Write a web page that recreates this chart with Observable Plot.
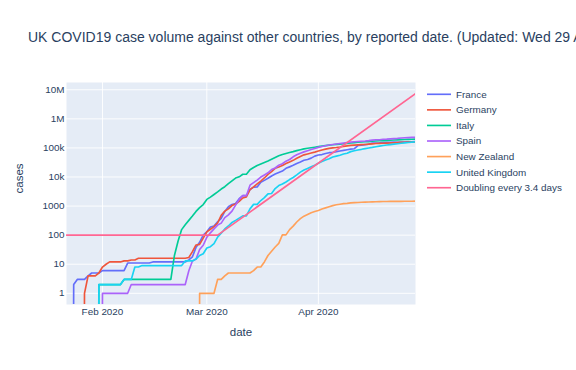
<!DOCTYPE html>
<html><head><meta charset="utf-8">
<script src="https://cdn.jsdelivr.net/npm/d3@7"></script>
<script src="https://cdn.jsdelivr.net/npm/@observablehq/plot@0.6"></script>
<style>
body{margin:0;background:#fff;}
#wrap{position:relative;width:576px;height:370px;overflow:hidden;font-family:"Liberation Sans",Arial,sans-serif;}
#wrap svg.overlay{position:absolute;left:0;top:0;pointer-events:none;}
</style></head><body><div id="wrap"></div>
<script>
// ---- data (daily cumulative cases, 22 Jan 2020 .. 28 Apr 2020) ----
const titleText = "UK COVID19 case volume against other countries, by reported date. (Updated: Wed 29 April 2020)";
const firstDay = "2020-01-22";
const lastDay = "2020-04-28";
const seriesNames = ["France","Germany","Italy","Spain","New Zealand","United Kingdom","Doubling every 3.4 days"];
const seriesColors = ["#636EFA","#EF553B","#00CC96","#AB63FA","#FFA15A","#19D3F3","#FF6692"];

const france = [0,0,2,3,3,3,4,5,5,5,
 6,6,6,6,6,6,6,11,11,11,11,11,11,11,12,12,12,12,12,12,12,12,12,12,14,18,38,57,100,
 130,191,204,288,380,656,957,1134,1217,1792,2289,2289,3672,4480,4513,6650,7652,9043,10871,12612,14282,16018,19856,22304,25233,29155,32964,37575,40174,44550,52128,
 56989,59105,64338,68605,70478,74390,78167,82048,86334,90676,93790,120633,124298,130253,133470,145960,147969,149149,154097,156480,155393,158168,155980,158303,159952,161644,162220,165093];
const germany = [0,0,0,0,0,1,4,4,4,5,
 8,10,12,12,12,12,13,13,14,14,16,16,16,16,16,16,16,16,16,16,16,16,16,16,17,27,46,48,79,
 130,159,196,262,482,670,799,1040,1176,1457,1908,2078,3675,4585,5795,7272,9257,12327,15320,19848,22213,24873,29056,32986,37323,43938,50871,57695,62095,66885,71808,
 77872,84794,91159,96092,100123,103374,107663,113296,118181,122171,124908,127854,130072,131359,134753,137698,141397,143342,145184,147065,148291,150648,153129,154999,156513,157770,158758,159912];
const italy = [0,0,0,0,0,0,0,0,0,2,
 2,2,2,2,2,2,3,3,3,3,3,3,3,3,3,3,3,3,3,3,20,62,155,229,322,453,655,888,1128,
 1694,2036,2502,3089,3858,4636,5883,7375,9172,10149,12462,12462,17660,21157,24747,27980,31506,35713,41035,47021,53578,59138,63927,69176,74386,80589,86498,92472,97689,101739,105792,
 110574,115242,119827,124632,128948,132547,135586,139422,143626,147577,152271,156363,159516,162488,165155,168941,172434,175925,178972,181228,183957,187327,189973,192994,195351,197675,199414,201505];
const spain = [0,0,0,0,0,0,0,0,0,0,
 1,1,1,1,1,1,1,1,2,2,2,2,2,2,2,2,2,2,2,2,2,2,2,2,6,13,15,32,45,
 84,120,165,222,259,400,500,673,1073,1695,2277,2277,5232,6391,7798,9942,11748,13910,17963,20410,25374,28603,35136,39885,49515,57786,65719,73235,80110,87956,95923,
 104118,112065,119199,126168,131646,136675,141942,148220,153222,158273,163027,166831,170099,172541,177644,184948,190839,191726,198674,200210,204178,208389,213024,219764,223759,226629,229422,232128];
const newZealand = [0,0,0,0,0,0,0,0,0,0,
 0,0,0,0,0,0,0,0,0,0,0,0,0,0,0,0,0,0,0,0,0,0,0,0,0,0,0,1,1,
 1,1,1,3,3,4,5,5,5,5,5,5,5,6,8,8,12,20,28,39,52,102,102,155,205,283,368,451,514,589,647,
 708,797,868,950,1039,1106,1160,1210,1239,1283,1312,1330,1349,1366,1386,1401,1409,1422,1431,1440,1445,1451,1451,1456,1461,1469,1469,1472];
const unitedKingdom = [0,0,0,0,0,0,0,0,0,2,
 2,2,2,2,2,2,3,3,3,8,8,9,9,9,9,9,9,9,9,9,9,9,9,13,13,13,15,20,23,
 36,40,51,86,116,164,207,274,322,384,459,459,802,1144,1145,1551,1960,2642,2716,4014,5067,5745,6726,8164,9640,11812,14745,17312,19780,22453,25481,
 29865,34173,38689,42477,48436,52279,55949,61474,65872,74605,79874,85206,89570,94845,99483,104145,109769,115314,121172,125856,130172,134638,139246,144640,149569,154037,158348,162350];
// reference line: flat at 100, then doubling every 3.4 days (straight on the log axis)
const doublingDates = ["2020-01-22","2020-03-04","2020-04-28"];
const doublingValues = [100,100,7400000];

const xTickDates = ["2020-02-01","2020-03-01","2020-04-01"];
const xTickLabels = ["Feb 2020","Mar 2020","Apr 2020"];
const yTickValues = [1,10,100,1000,10000,100000,1000000,10000000];
const yTickLabels = ["1","10","100","1000","10k","100k","1M","10M"];

// ---- build ----
const countrySeries = [france, germany, italy, spain, newZealand, unitedKingdom];
const days = d3.utcDay.range(new Date(firstDay), d3.utcDay.offset(new Date(lastDay), 1));
const rows = [];
countrySeries.forEach((vals, k) => vals.forEach((v, i) => rows.push({date: days[i], cases: v, series: seriesNames[k]})));
doublingDates.forEach((d, i) => rows.push({date: new Date(d), cases: doublingValues[i], series: seriesNames[6]}));

const xTicks = xTickDates.map(d => new Date(d));
const xLab = new Map(xTicks.map((d, i) => [+d, xTickLabels[i]]));
const yLab = new Map(yTickValues.map((v, i) => [v, yTickLabels[i]]));
const ink = "#2a3f5f";
const font = '"Liberation Sans", Arial, sans-serif';

const chart = Plot.plot({
  width: 576, height: 370,
  marginLeft: 66, marginRight: 161, marginTop: 82, marginBottom: 66,
  style: {fontFamily: font, fontSize: "9.9px", color: ink, background: "transparent"},
  x: {type: "utc", domain: [new Date(firstDay), new Date(lastDay)]},
  y: {type: "log", domain: [Math.pow(10, -0.385), Math.pow(10, 7.25)]},
  color: {domain: seriesNames, range: seriesColors},
  marks: [
    Plot.frame({fill: "#E5ECF6", stroke: null}),
    Plot.gridX({ticks: xTicks, stroke: "white", strokeOpacity: 1, strokeWidth: 0.9}),
    Plot.gridY({ticks: yTickValues, stroke: "white", strokeOpacity: 1, strokeWidth: 0.9}),
    Plot.axisX({ticks: xTicks, tickFormat: d => xLab.get(+d), tickSize: 0, tickPadding: 3, label: null}),
    Plot.axisY({ticks: yTickValues, tickFormat: d => yLab.get(+d), tickSize: 0, tickPadding: 2, label: null}),
    Plot.line(rows, {x: "date", y: d => d.cases > 0 ? d.cases : 1e-30, z: "series", stroke: "series",
      strokeWidth: 1.65, strokeLinejoin: "round", clip: true}),
    Plot.text(["date"], {text: d => d, frameAnchor: "bottom", dy: 31, fontSize: 11.5, fill: ink}),
    Plot.text(["cases"], {text: d => d, frameAnchor: "left", dx: -47, rotate: -90, fontSize: 11.5, fill: ink})
  ]
});
const wrap = document.getElementById("wrap");
wrap.appendChild(chart);

// title + legend overlay
const ov = d3.select(wrap).append("svg").attr("class", "overlay")
  .attr("width", 576).attr("height", 370).style("font-family", font);
ov.append("text").attr("x", 28).attr("y", 42).attr("fill", ink).style("font-size", "14px").text(titleText);
const lg = ov.append("g").selectAll("g").data(seriesNames).join("g")
  .attr("transform", (d, i) => `translate(0,${94.3 + i * 15.57})`);
lg.append("line").attr("x1", 427).attr("x2", 451).attr("y1", 0).attr("y2", 0)
  .attr("stroke", (d, i) => seriesColors[i]).attr("stroke-width", 1.65);
lg.append("text").attr("x", 456).attr("y", 0).attr("dy", "0.35em").attr("fill", ink)
  .style("font-size", "9.9px").text(d => d);
</script></body></html>
